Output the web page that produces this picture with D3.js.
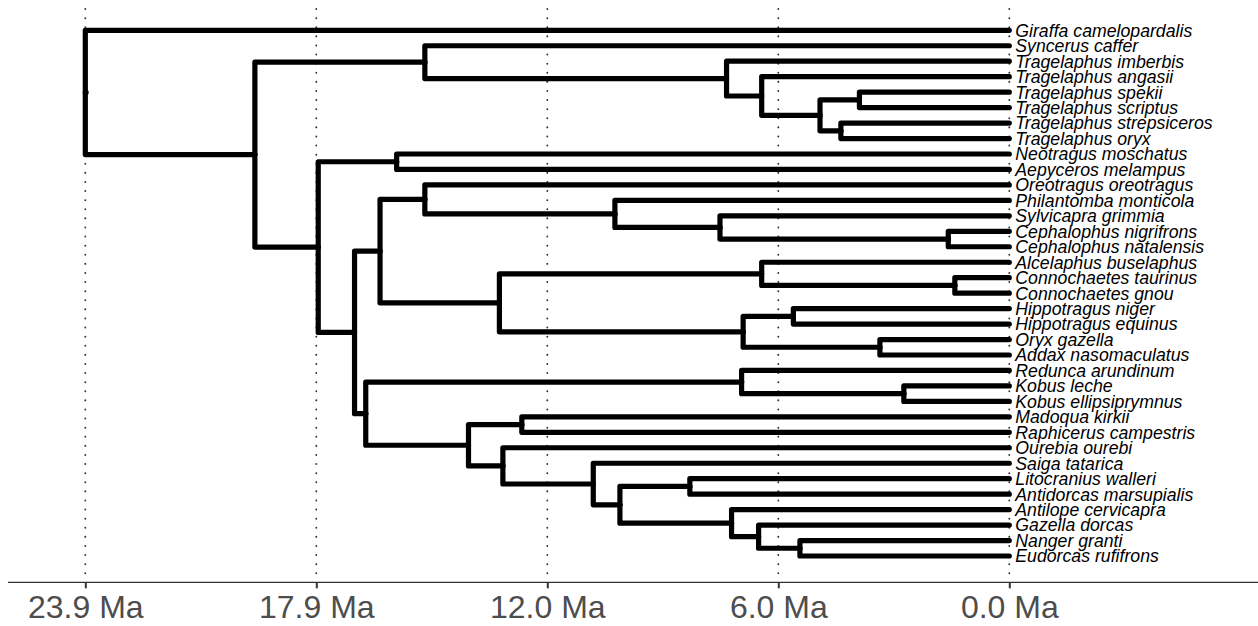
<!DOCTYPE html>
<html>
<head>
<meta charset="utf-8">
<script src="https://cdn.jsdelivr.net/npm/d3@7"></script>
<style>
  body { margin: 0; background: #fff; }
  svg { display: block; font-family: "Liberation Sans", Arial, sans-serif; }
</style>
</head>
<body>
<div id="chart"></div>
<script>
// Tips, top to bottom, with the internal node each one hangs from
const tipNames = [
  "Giraffa camelopardalis", "Syncerus caffer", "Tragelaphus imberbis", "Tragelaphus angasii",
  "Tragelaphus spekii", "Tragelaphus scriptus", "Tragelaphus strepsiceros", "Tragelaphus oryx",
  "Neotragus moschatus", "Aepyceros melampus", "Oreotragus oreotragus", "Philantomba monticola",
  "Sylvicapra grimmia", "Cephalophus nigrifrons", "Cephalophus natalensis", "Alcelaphus buselaphus",
  "Connochaetes taurinus", "Connochaetes gnou", "Hippotragus niger", "Hippotragus equinus",
  "Oryx gazella", "Addax nasomaculatus", "Redunca arundinum", "Kobus leche",
  "Kobus ellipsiprymnus", "Madoqua kirkii", "Raphicerus campestris", "Ourebia ourebi",
  "Saiga tatarica", "Litocranius walleri", "Antidorcas marsupialis", "Antilope cervicapra",
  "Gazella dorcas", "Nanger granti", "Eudorcas rufifrons"
];
const tipParents = [
  "n1", "n3", "n4", "n5", "n8", "n8", "n9", "n9",
  "n11", "n11", "n14", "n15", "n16", "n17", "n17", "n19",
  "n20", "n20", "n22", "n22", "n23", "n23", "n25", "n26",
  "n26", "n28", "n28", "n29", "n30", "n32", "n32", "n33",
  "n34", "n35", "n35"
];

// Internal nodes: id, parent, age (Ma)
const nodeIds = [
  "n1", "n2", "n3", "n4", "n5", "n7", "n8", "n9", "n10", "n11", "n12", "n13",
  "n14", "n15", "n16", "n17", "n18", "n19", "n20", "n21", "n22", "n23", "n24",
  "n25", "n26", "n27", "n28", "n29", "n30", "n31", "n32", "n33", "n34", "n35"
];
const nodeParents = [
  null, "n1", "n2", "n3", "n4", "n5", "n7", "n7", "n2", "n10", "n10", "n12",
  "n13", "n14", "n15", "n16", "n13", "n18", "n19", "n18", "n21", "n21", "n12",
  "n24", "n25", "n24", "n27", "n27", "n29", "n30", "n31", "n31", "n33", "n34"
];
const nodeAges = [
  23.92, 19.53, 15.13, 7.32, 6.41, 4.90, 3.88, 4.36, 17.89, 15.86, 16.95, 16.29,
  15.13, 10.21, 7.49, 1.58, 13.20, 6.41, 1.41, 6.89, 5.59, 3.35, 16.66,
  6.93, 2.73, 14.00, 12.62, 13.11, 10.77, 10.08, 8.27, 7.19, 6.49, 5.42
];

// Axis breaks (root age split in quarters)
const tickAges = [23.92, 17.94, 11.96, 5.98, 0];

const width = 1258;
const height = 626;
const axisY = 582.3;

const rows = nodeIds.map((id, i) => ({ id, parent: nodeParents[i], age: nodeAges[i], tip: -1 }))
  .concat(tipNames.map((id, i) => ({ id, parent: tipParents[i], age: 0, tip: i })));

const root = d3.stratify().id(d => d.id).parentId(d => d.parent)(rows);

const xScale = d3.scaleLinear()
  .domain([nodeAges[0], 0])
  .range([85.3, 1009.3]);

const yScale = d3.scaleLinear()
  .domain([0, tipNames.length - 1])
  .range([30.3, 556]);

// tip rows first, then every node sits halfway between its children
root.eachAfter(d => {
  d.yPos = d.children ? d3.mean(d.children, c => c.yPos) : yScale(d.data.tip);
  d.xPos = xScale(d.data.age);
});

const svg = d3.select("#chart")
  .append("svg")
  .attr("width", width)
  .attr("height", height);

// dotted vertical grid at the breaks
svg.append("g")
  .selectAll("line")
  .data(tickAges)
  .join("line")
  .attr("x1", d => xScale(d))
  .attr("x2", d => xScale(d))
  .attr("y1", 9)
  .attr("y2", axisY - 4)
  .attr("stroke", "#333")
  .attr("stroke-width", 1.9)
  .attr("stroke-linecap", "round")
  .attr("stroke-dasharray", "0.1,9");

// bottom axis
svg.append("line")
  .attr("x1", 8)
  .attr("x2", width)
  .attr("y1", axisY)
  .attr("y2", axisY)
  .attr("stroke", "#333")
  .attr("stroke-width", 1.3);

const axis = svg.append("g")
  .attr("transform", `translate(0,${axisY})`)
  .call(d3.axisBottom(xScale)
    .tickValues(tickAges)
    .tickFormat(d => d.toFixed(1) + " Ma")
    .tickSize(6)
    .tickPadding(6.5)
    .tickSizeOuter(0));
axis.select(".domain").remove();
axis.selectAll(".tick line").attr("stroke", "#333").attr("stroke-width", 2);
axis.selectAll(".tick text")
  .attr("fill", "#4d4d4d")
  .style("font-size", "32px")
  .style("font-family", "\"Liberation Sans\", Arial, sans-serif");

// branches
svg.append("g")
  .selectAll("path")
  .data(root.descendants().filter(d => d.parent))
  .join("path")
  .attr("d", d => `M${d.parent.xPos},${d.parent.yPos}V${d.yPos}H${d.xPos}`)
  .attr("fill", "none")
  .attr("stroke", "#000")
  .attr("stroke-width", 5.2)
  .attr("stroke-linecap", "round")
  .attr("stroke-linejoin", "round");

// root point
svg.append("circle")
  .attr("cx", root.xPos + 0.8)
  .attr("cy", root.yPos)
  .attr("r", 2.6)
  .attr("fill", "#000");

// tip labels
svg.append("g")
  .selectAll("text")
  .data(root.leaves())
  .join("text")
  .attr("x", d => d.xPos + 6)
  .attr("y", d => d.yPos)
  .attr("dy", "0.36em")
  .attr("fill", "#000")
  .style("font-size", "17.7px")
  .style("font-style", "italic")
  .text(d => d.id);
</script>
</body>
</html>
